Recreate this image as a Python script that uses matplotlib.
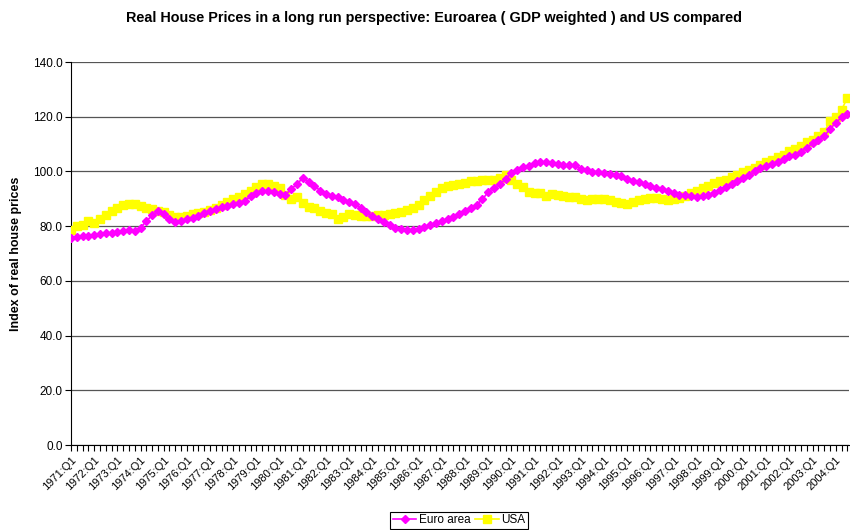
import matplotlib
matplotlib.use("Agg")
import matplotlib.pyplot as plt
from matplotlib.ticker import FuncFormatter

plt.rcParams['font.family'] = ['Liberation Sans', 'DejaVu Sans']

# Quarterly data 1971:Q1 .. 2004:Q3
years = list(range(1971, 2005))
quarters = [f"{y}:Q{q}" for y in years for q in range(1, 5)][:135]

euro_area = [
    75.8, 76.0, 76.3, 76.6, 76.9, 77.2, 77.4, 77.6, 77.8, 78.3, 78.6, 78.4,
    79.5, 81.8, 84.0, 85.5, 84.3, 82.5, 81.5, 81.8, 82.5, 83.0, 83.8, 84.7,
    85.5, 86.3, 87.0, 87.5, 88.0, 88.6, 89.3, 91.0, 92.2, 93.0, 93.0, 92.5,
    91.8, 91.5, 93.5, 95.5, 97.5, 96.3, 94.8, 93.0, 91.8, 91.0, 90.5, 89.5,
    88.8, 88.0, 86.8, 85.2, 83.6, 82.5, 81.5, 80.3, 79.4, 78.9, 78.8, 78.8,
    79.1, 79.6, 80.4, 81.3, 81.8, 82.5, 83.5, 84.4, 85.5, 86.7, 87.9, 89.8,
    92.5, 94.0, 95.3, 97.3, 99.3, 100.7, 101.8, 102.0, 103.0, 103.6, 103.4, 103.0,
    102.7, 102.4, 102.3, 102.3, 101.0, 100.4, 99.9, 99.7, 99.4, 99.1, 98.8, 98.3,
    97.4, 96.7, 96.0, 95.3, 94.6, 94.0, 93.6, 93.0, 92.0, 91.5, 91.3, 91.0,
    90.8, 91.0, 91.3, 92.2, 93.4, 94.3, 95.5, 96.7, 97.6, 98.7, 100.0, 101.1,
    102.0, 102.8, 103.5, 104.7, 105.7, 106.2, 107.2, 108.7, 110.3, 111.5, 113.0, 115.5,
    117.8, 119.8, 121.0,
]

usa = [
    78.8, 80.0, 80.4, 81.8, 81.2, 82.8, 84.0, 85.5, 86.8, 87.6, 88.2, 88.3,
    87.3, 86.6, 86.3, 85.6, 85.2, 84.2, 83.3, 83.2, 83.6, 84.5, 84.9, 85.2,
    85.8, 86.5, 87.6, 88.8, 90.0, 90.8, 91.8, 93.0, 94.5, 95.5, 95.3, 94.6,
    93.8, 91.5, 89.8, 90.5, 88.5, 87.0, 86.5, 85.5, 84.9, 84.6, 82.5, 83.3,
    84.3, 84.1, 83.8, 83.6, 83.8, 84.1, 84.2, 84.6, 84.9, 85.3, 85.8, 86.6,
    87.6, 89.5, 91.2, 92.6, 93.8, 94.7, 95.2, 95.6, 95.9, 96.5, 96.6, 96.8,
    96.9, 97.0, 97.8, 98.6, 97.0, 95.3, 94.5, 92.5, 92.0, 92.0, 91.2, 91.6,
    91.5, 91.0, 90.5, 90.5, 90.0, 89.7, 89.8, 90.0, 89.9, 89.6, 89.0, 88.4,
    88.2, 88.9, 89.5, 90.0, 90.4, 90.2, 89.9, 89.6, 89.8, 90.4, 91.2, 92.0,
    93.0, 94.0, 94.8, 95.7, 96.5, 97.0, 97.9, 98.8, 99.7, 100.6, 101.4, 102.2,
    103.3, 104.2, 105.2, 106.2, 107.4, 108.3, 109.4, 110.8, 111.6, 113.0, 114.3, 118.6,
    120.0, 122.5, 127.0,
]

y_ticks = [0, 20, 40, 60, 80, 100, 120, 140]
title = "Real House Prices in a long run perspective: Euroarea ( GDP weighted ) and US compared"
y_label = "Index of real house prices"

fig = plt.figure(figsize=(8.5, 5.3), dpi=100)
ax = fig.add_axes([0.0835, 0.160, 0.9155, 0.723])

x = list(range(len(quarters)))
ax.plot(x, usa, color='#FFFF00', marker='s', markersize=6, linewidth=1.2,
        label='USA', zorder=3)
ax.plot(x, euro_area, color='#FF00FF', marker='D', markersize=4.2, linewidth=1.2,
        label='Euro area', zorder=4)

ax.set_xlim(0, 134.3)
ax.set_ylim(0, 140)
ax.set_yticks(y_ticks)
ax.yaxis.set_major_formatter(FuncFormatter(lambda v, p: f"{v:.1f}"))
ax.grid(axis='y', color='#555555', linewidth=0.9)
ax.set_axisbelow(True)

ax.set_xticks(x)
ax.set_xticklabels([q if i % 4 == 0 else '' for i, q in enumerate(quarters)],
                   rotation=45, ha='right', rotation_mode='anchor', fontsize=8)
ax.tick_params(axis='x', length=4, width=0.8, direction='out', pad=3)
ax.tick_params(axis='y', length=4, width=0.8, direction='out', labelsize=8.5, pad=2)

for s in ['top', 'right']:
    ax.spines[s].set_visible(False)
ax.spines['left'].set_color('black')
ax.spines['bottom'].set_color('black')

ax.set_ylabel(y_label, fontsize=9, fontweight='bold', labelpad=8)
fig.text(0.51, 0.966, title, ha='center', va='center', fontsize=10.4, fontweight='bold')

handles, labels = ax.get_legend_handles_labels()
leg = fig.legend([handles[1], handles[0]], [labels[1], labels[0]], loc='center',
                 bbox_to_anchor=(0.54, 0.018), ncol=2, fontsize=8.5, frameon=True,
                 fancybox=False, edgecolor='black', framealpha=1,
                 handlelength=2.0, handletextpad=0.2, columnspacing=0.4,
                 borderpad=0.2, borderaxespad=0)
leg.get_frame().set_linewidth(0.8)

fig.savefig('out.png', dpi=100)
